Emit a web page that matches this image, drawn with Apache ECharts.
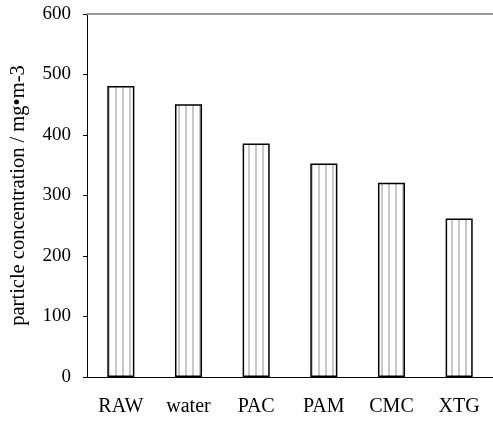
<!DOCTYPE html>
<html>
<head>
<meta charset="utf-8">
<script src="https://cdn.jsdelivr.net/npm/echarts@6/dist/echarts.min.js"></script>
<style>
  html, body { margin: 0; padding: 0; background: #fff; }
  #chart { width: 493px; height: 421px; }
</style>
</head>
<body>
<div id="chart"></div>
<script>
var categories = ['RAW', 'water', 'PAC', 'PAM', 'CMC', 'XTG'];
var concentration = [481, 451, 386, 353, 321, 262];
var yTicks = [0, 100, 200, 300, 400, 500, 600];

// 竖条纹填充
function stripePattern() {
  var c = document.createElement('canvas');
  c.width = 7;
  c.height = 4;
  var ctx = c.getContext('2d');
  ctx.fillStyle = '#ffffff';
  ctx.fillRect(0, 0, 7, 4);
  ctx.fillStyle = '#c8c8c8';
  ctx.fillRect(3, 0, 2, 4);
  return c;
}

var font = '"Liberation Serif", "Times New Roman", serif';
var myChart = echarts.init(document.getElementById('chart'));
myChart.setOption({
  animation: false,
  grid: {
    left: 86,
    top: 14,
    bottom: 44,
    right: -3
  },
  xAxis: [{
    type: 'category',
    data: categories,
    axisLine: { show: true, lineStyle: { color: '#000', width: 1 } },
    axisTick: { show: false },
    axisLabel: { color: '#000', fontFamily: font, fontSize: 20, margin: 20 }
  }, {
    type: 'category',
    position: 'top',
    data: categories,
    axisLine: { show: true, lineStyle: { color: '#999', width: 2 } },
    axisTick: { show: false },
    axisLabel: { show: false }
  }],
  yAxis: {
    type: 'value',
    min: yTicks[0],
    max: yTicks[yTicks.length - 1],
    interval: 100,
    name: 'particle concentration / mg\u2022m-3',
    nameLocation: 'middle',
    nameGap: 58,
    nameTextStyle: { color: '#000', fontFamily: font, fontSize: 20.5 },
    axisLine: { show: true, lineStyle: { color: '#000', width: 1 } },
    axisTick: { show: true, inside: false, length: 4, lineStyle: { color: '#000' } },
    axisLabel: { color: '#000', fontFamily: font, fontSize: 19, margin: 16 },
    splitLine: { show: false }
  },
  series: [{
    type: 'bar',
    data: concentration,
    barWidth: '40%',
    itemStyle: {
      color: { image: stripePattern(), repeat: 'repeat' },
      borderColor: '#000',
      borderWidth: 1.5
    }
  }]
});
</script>
</body>
</html>
